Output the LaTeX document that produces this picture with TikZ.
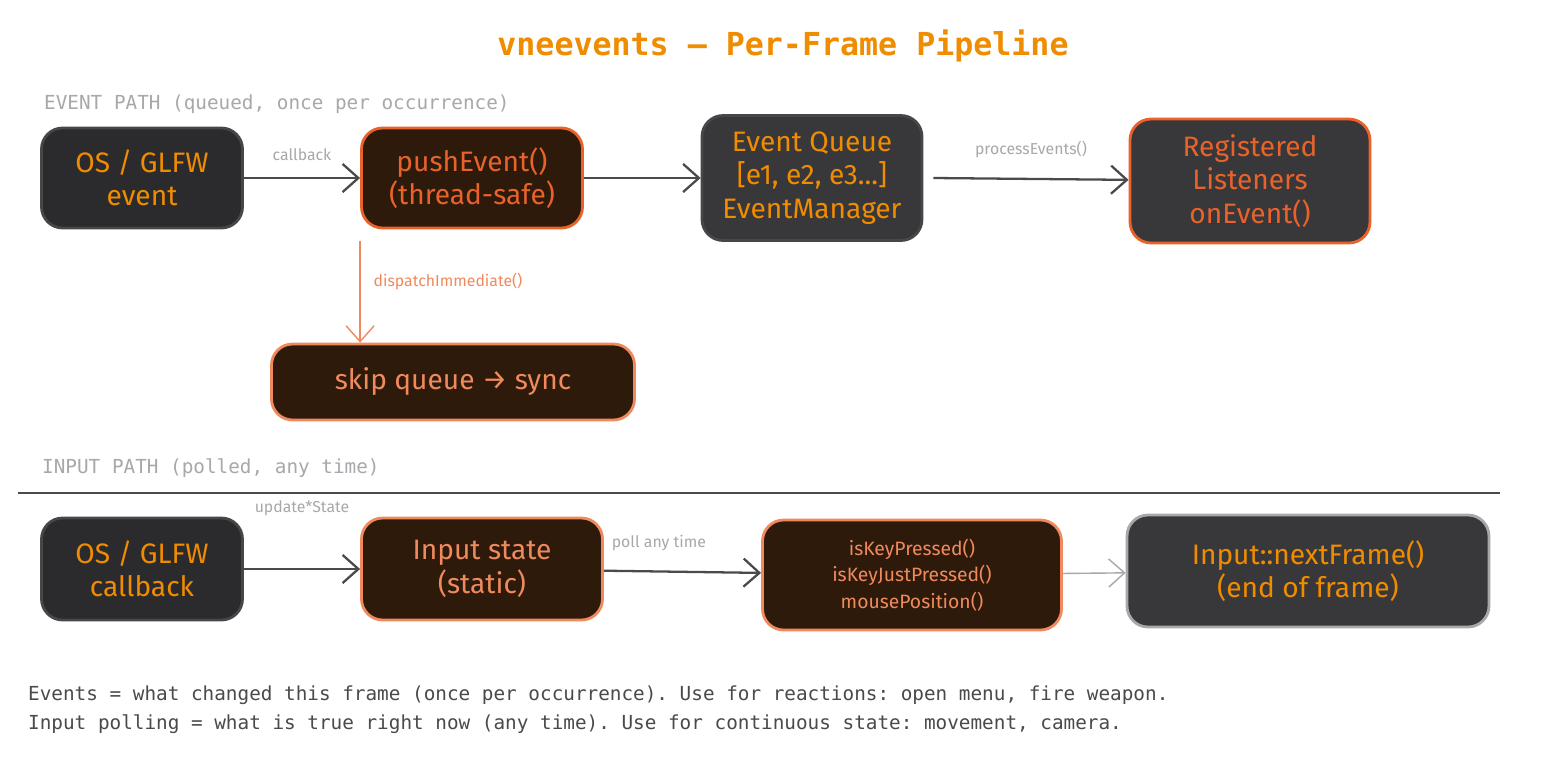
\documentclass[tikz,border=0pt]{standalone}
\usepackage{fontspec}
\setmainfont{Fira Sans}
\setmonofont{DejaVu Sans Mono}
\usetikzlibrary{arrows.meta,positioning}
\definecolor{darkbox}{HTML}{2B2B2E}
\definecolor{greybox}{HTML}{38383B}
\definecolor{brownbox}{HTML}{2E1A0B}
\definecolor{edgegrey}{HTML}{474749}
\definecolor{amber}{HTML}{F08C00}
\definecolor{rust}{HTML}{E8622A}
\definecolor{salmon}{HTML}{F08A5D}
\definecolor{labelgrey}{HTML}{A8A8AC}
\definecolor{linegrey}{HTML}{4A4A4A}
\tikzset{
  box/.style={rounded corners=12pt, line width=1.6pt, align=center, font=\fontsize{16}{19}\selectfont, inner sep=0pt},
  flow/.style={-{Straight Barb[length=9pt,width=16pt]}, line width=1.3pt, draw=linegrey},
  tag/.style={font=\fontsize{9}{11}\selectfont, text=labelgrey},
  section/.style={font=\ttfamily\fontsize{11}{13}\selectfont, text=labelgrey, anchor=west}
}
\begin{document}
\begin{tikzpicture}[x=0.02cm,y=-0.02cm]
    \useasboundingbox[fill=white] (0,0) rectangle (1542,758);
    \node[font=\ttfamily\bfseries\fontsize{18}{22}\selectfont, text=amber] (title) at (783,46) {vneevents — Per-Frame Pipeline};
    \node[section] (evlabel) at (38,104) {EVENT PATH (queued, once per occurrence)};
    \node[section] (inlabel) at (36,468) {INPUT PATH (polled, any time)};
    \draw[line width=1pt, draw=linegrey] (18,493) -- (1500,493);
    % event path
    \node[box, fill=darkbox, draw=edgegrey, text=amber, minimum width=201*0.02cm, minimum height=100*0.02cm] (osevent) at (142,178) {OS / GLFW\\event};
    \node[box, fill=brownbox, draw=rust, text=rust, minimum width=221*0.02cm, minimum height=100*0.02cm] (push) at (472,178) {pushEvent()\\(thread-safe)};
    \node[box, fill=greybox, draw=edgegrey, text=amber, minimum width=220*0.02cm, minimum height=125*0.02cm] (queue) at (812,178) {Event Queue\\{}[e1, e2, e3...]\\EventManager};
    \node[box, fill=greybox, draw=rust, text=rust, minimum width=240*0.02cm, minimum height=124*0.02cm] (listeners) at (1250,181) {Registered\\Listeners\\onEvent()};
    \node[box, fill=brownbox, draw=salmon, text=salmon, minimum width=363*0.02cm, minimum height=76*0.02cm] (skip) at (453,382) {skip queue → sync};
      \draw[flow] (osevent) -- node[tag, above=6pt] {callback} (push);
      \draw[flow] (push) -- (queue);
      \draw[flow] (queue.east) ++(10,0) coordinate (qout) -- node[tag, above=8pt] {processEvents()} (listeners);
      \draw[flow, draw=salmon, line width=0.8pt] (push.south west) ++(0,12) coordinate (pdown) -- node[tag, text=salmon, right=4pt, pos=0.4] {dispatchImmediate()} (pdown |- skip.north);
    % input path
    \node[box, fill=darkbox, draw=edgegrey, text=amber, minimum width=201*0.02cm, minimum height=102*0.02cm] (oscall) at (142,569) {OS / GLFW\\callback};
    \node[box, fill=brownbox, draw=salmon, text=salmon, minimum width=241*0.02cm, minimum height=102*0.02cm] (state) at (482,569) {Input state\\(static)};
    \node[box, fill=brownbox, draw=salmon, text=salmon, font=\fontsize{11}{15}\selectfont, minimum width=299*0.02cm, minimum height=110*0.02cm] (query) at (912,575) {isKeyPressed()\\isKeyJustPressed()\\mousePosition()};
    \node[box, fill=greybox, draw=labelgrey, text=amber, minimum width=362*0.02cm, minimum height=112*0.02cm] (next) at (1308,571) {Input::nextFrame()\\(end of frame)};
      \draw[flow] (oscall) -- node[tag, above=26pt] {update*State} (state);
      \draw[flow] (state) -- node[tag, above=8pt, pos=0.35] {poll any time} (query);
      \draw[flow, draw=labelgrey, line width=0.8pt] (query) -- (next);
    % footer
    \node[font=\ttfamily\fontsize{11}{16}\selectfont, text=linegrey, align=left, anchor=north west] (note) at (22,680) {Events = what changed this frame (once per occurrence). Use for reactions: open menu, fire weapon.\\Input polling = what is true right now (any time). Use for continuous state: movement, camera.};
\end{tikzpicture}
\end{document}
